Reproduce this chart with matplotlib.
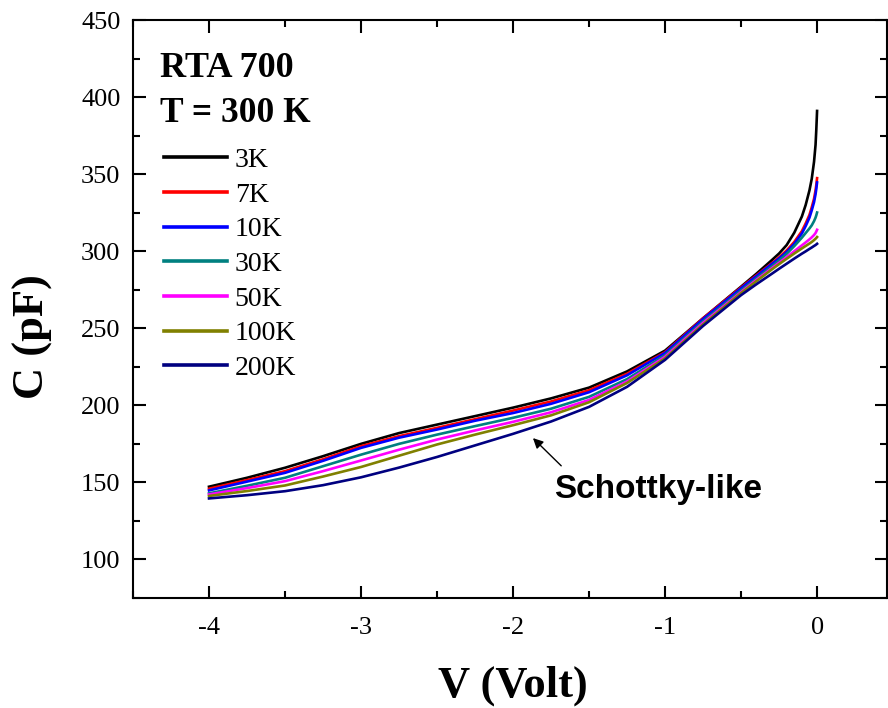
import numpy as np
import matplotlib
matplotlib.use("Agg")
import matplotlib.pyplot as plt
from matplotlib.ticker import MultipleLocator

# C-V curves, V in volt, C in pF
v = [-4, -3.75, -3.5, -3.25, -3, -2.75, -2.5, -2.25, -2, -1.75, -1.5, -1.25,
     -1, -0.75, -0.5, -0.4, -0.3, -0.25, -0.2, -0.15, -0.1, -0.075, -0.05,
     -0.035, -0.02, -0.01, -0.005, 0]

c_3k = [147.2, 153, 159.5, 167, 175, 182, 187.5, 193, 198.5, 204.5, 211.5, 222,
        235.5, 256.5, 277, 285.3, 294, 298.5, 304, 312, 322.5, 330, 339.5,
        347, 358, 369, 379, 391]
c_7k = [145.9, 151.5, 157.3, 165, 173.5, 180, 185.4, 191, 196.6, 202.5, 209.8, 220.5,
        234.5, 256.5, 276.5, 284.3, 292, 296, 300.5, 306, 313, 318, 323.6,
        328.5, 334, 339.5, 343, 347.4]
c_10k = [144.8, 150.5, 156.2, 164, 172.4, 179, 184.3, 190, 195, 201, 208.5, 219.5,
         234, 256, 276, 283.8, 291.5, 295.3, 299.5, 304.8, 311.5, 316.3, 321.8,
         326.5, 331.8, 337, 340.5, 344.6]
c_30k = [142.9, 147.8, 153, 160.5, 168, 175, 181, 186.5, 191.9, 197.8, 205.5, 217,
         232.5, 254.5, 274.5, 282.3, 290, 294, 298.3, 303.3, 308.8, 311.8, 314.8,
         316.8, 319.5, 321.8, 323.3, 325.1]
c_50k = [142.2, 146.3, 150.8, 157.3, 164.2, 171.2, 177.8, 183.7, 189.3, 195.5, 203.5, 215.5,
         231.5, 253.5, 273.5, 281.3, 288.8, 292.5, 296.2, 300, 303.8, 305.7, 307.7,
         309, 310.5, 311.8, 312.8, 313.9]
c_100k = [141.2, 144.4, 148, 153.8, 160, 167.3, 174.6, 181, 187.1, 193.5, 202, 214.5,
          230.5, 252.5, 272.8, 280.5, 288, 291.6, 295.1, 298.5, 301.8, 303.4, 305,
          306, 307.2, 308.1, 308.6, 309.2]
c_200k = [139.6, 141.7, 144.3, 148.2, 153.3, 159.6, 166.5, 174, 181.5, 189.5, 199, 212,
          229.5, 251.5, 271.5, 278.5, 285.2, 288.6, 291.9, 295.2, 298.4, 299.9, 301.5,
          302.4, 303.4, 304, 304.4, 304.8]

labels = ["3K", "7K", "10K", "30K", "50K", "100K", "200K"]
colors = ["black", "#ff0000", "#0000ff", "#008080", "#ff00ff", "#808000", "#000080"]
series = [c_3k, c_7k, c_10k, c_30k, c_50k, c_100k, c_200k]

plt.rcParams["font.family"] = ["Liberation Serif", "DejaVu Serif"]
plt.rcParams["axes.unicode_minus"] = False

fig = plt.figure(figsize=(8.88, 7.08), dpi=100)
ax = fig.add_axes([133 / 888, 110 / 708, 754 / 888, 578 / 708])

for c, lab, col in zip(series, labels, colors):
    ax.plot(v, c, color=col, lw=1.9, label=lab)

ax.set_xlim(-4.5, 0.46)
ax.set_ylim(75, 450)
ax.xaxis.set_major_locator(MultipleLocator(1))
ax.xaxis.set_minor_locator(MultipleLocator(0.5))
ax.yaxis.set_major_locator(MultipleLocator(50))
ax.yaxis.set_minor_locator(MultipleLocator(25))
ax.tick_params(which="both", direction="in", top=True, right=True, width=1.5, labelsize=19)
ax.tick_params(which="major", length=9)
ax.tick_params(which="minor", length=5)
ax.tick_params(axis="x", pad=14)
ax.tick_params(axis="y", pad=9)
for s in ax.spines.values():
    s.set_linewidth(1.5)

ax.set_xlabel("V (Volt)", fontsize=32, fontweight="bold", va="center")
ax.xaxis.set_label_coords(0.504, -0.152)
ax.set_ylabel("C (pF)", fontsize=32, fontweight="bold", va="center")
ax.yaxis.set_label_coords(-0.133, 0.453)

ax.text(0.036, 0.901, "RTA 700", transform=ax.transAxes, fontsize=26,
        fontweight="bold", va="baseline")
ax.text(0.036, 0.8235, "T = 300 K", transform=ax.transAxes, fontsize=25.5,
        fontweight="bold", va="baseline")

leg = ax.legend(loc="upper left", bbox_to_anchor=(0.041, 0.779), frameon=False,
                fontsize=20, handlelength=2.26, handletextpad=0.29, labelspacing=0.33,
                borderpad=0, borderaxespad=0)
for h in leg.get_lines():
    h.set_linewidth(2.6)

ax.annotate("", xy=(-1.882, 180), xytext=(-1.67, 159.5),
            arrowprops=dict(arrowstyle="-|>", color="black", lw=1.0,
                            mutation_scale=15))
ax.text(-1.73, 140.2, "Schottky-like", fontsize=24, fontweight="bold",
        family="Liberation Sans", va="baseline")

fig.savefig("out.png", dpi=100)
